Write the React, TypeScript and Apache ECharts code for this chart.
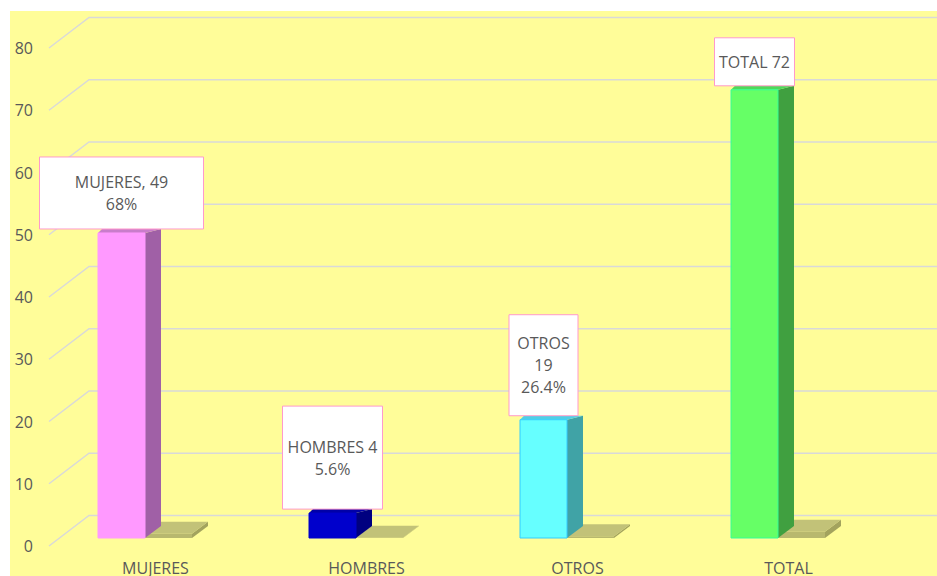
import React, { useEffect, useRef } from "react";
import * as echarts from "echarts";

const categories = ["MUJERES", "HOMBRES", "OTROS", "TOTAL"];
const values = [49, 4, 19, 72];
const percents = [68, 5.6, 26.4, 100];
const shareSeries = [0.68, 0.056, 0.264, 1];
const yTicks = [0, 10, 20, 30, 40, 50, 60, 70, 80];

const labelTexts = [
  `${categories[0]}, ${values[0]}\n${percents[0]}%`,
  `${categories[1]} ${values[1]}\n${percents[1]}%`,
  `${categories[2]}\n${values[2]}\n${percents[2]}%`,
  `${categories[3]} ${values[3]}`,
];

// styles
const FONT = "'Open Sans', 'Noto Sans', sans-serif";
const TEXT = "#595959";
const barFaces = [
  { front: "#FF99FF", side: "#A060A6", top: "#C97CCB", stroke: "#FF99FF" },
  { front: "#0000CC", side: "#000080", top: "#0000A8", stroke: "#0000CC" },
  { front: "#66FFFF", side: "#40A3A6", top: "#4FCFE6", stroke: "#33CCFF" },
  { front: "#66FF66", side: "#40A040", top: "#4FD85A", stroke: "#33FF99" },
];
const labelBoxes = [
  { w: 164, h: 72 },
  { w: 100, h: 103 },
  { w: 69, h: 101 },
  { w: 80, h: 48 },
];

export default function App() {
  const ref = useRef<HTMLDivElement>(null);
  useEffect(() => {
    if (!ref.current) return;
    const chart = echarts.init(ref.current, null, { renderer: "svg" });
    const BAR_W = 47;
    const FRONT_OFF = 8;

    const option: any = {
      animation: false,
      backgroundColor: "#FFFFFF",
      graphic: [
        {
          type: "rect",
          shape: { x: 10, y: 11, width: 927, height: 565 },
          style: { fill: "#FFFD99" },
          z: -10,
          silent: true,
        },
      ],
      grid: { left: 50, right: 43, top: 48, bottom: 28 },
      xAxis: {
        type: "category",
        data: categories,
        axisLine: { show: false },
        axisTick: { show: false },
        splitLine: { show: false },
        axisLabel: { color: TEXT, fontSize: 16, fontFamily: FONT, margin: 14 },
      },
      yAxis: {
        type: "value",
        min: 0,
        max: 80,
        interval: 10,
        axisLine: { show: false },
        axisTick: { show: false },
        splitLine: { show: false },
        axisLabel: { color: TEXT, fontSize: 16, fontFamily: FONT, margin: 17 },
      },
      series: [
        {
          type: "custom",
          name: "grid",
          z: 1,
          silent: true,
          data: yTicks.map((t) => [0, t]),
          renderItem: (params: any, api: any) => {
            const y = api.coord([0, api.value(1)])[1];
            return {
              type: "polyline",
              shape: { points: [[49, y], [89, y - 30.5], [937, y - 30.5]] },
              style: { stroke: "#D9D9D9", lineWidth: 1.5, fill: "none" },
            };
          },
        },
        {
          type: "custom",
          name: "pct",
          z: 2,
          data: shareSeries.map((v, i) => [i, v]),
          renderItem: (params: any, api: any) => {
            const base = api.coord([api.value(0), 0]);
            const cx = base[0];
            const y0 = base[1] - FRONT_OFF;
            const yP = api.coord([api.value(0), api.value(1)])[1] - FRONT_OFF;
            const x0 = cx - 57.5 + BAR_W;
            const x1 = x0 + BAR_W;
            return {
              type: "group",
              children: [
                {
                  type: "polygon",
                  shape: { points: [[x0, y0], [x1, y0], [x1, yP], [x0, yP]] },
                  style: { fill: "#B8B86E" },
                },
                {
                  type: "polygon",
                  shape: { points: [[x1, yP], [x1 + 16, yP - 12], [x1 + 16, y0 - 12], [x1, y0]] },
                  style: { fill: "#A3A35E" },
                },
                {
                  type: "polygon",
                  shape: { points: [[x0, yP], [x1, yP], [x1 + 16, yP - 12], [x0 + 16, yP - 12]] },
                  style: { fill: "#C2C278" },
                },
              ],
            };
          },
        },
        {
          type: "custom",
          name: "valores",
          z: 3,
          data: values.map((v, i) => [i, v]),
          renderItem: (params: any, api: any) => {
            const i = params.dataIndex;
            const f = barFaces[i];
            const base = api.coord([api.value(0), 0]);
            const cx = base[0];
            const y0 = base[1] - FRONT_OFF;
            const yT = api.coord([api.value(0), api.value(1)])[1] - FRONT_OFF;
            const x0 = cx - 57.5;
            const x1 = x0 + BAR_W;
            return {
              type: "group",
              children: [
                {
                  type: "polygon",
                  shape: { points: [[x1, yT], [x1 + 16, yT - 4], [x1 + 16, y0 - 12], [x1, y0]] },
                  style: { fill: f.side },
                },
                {
                  type: "polygon",
                  shape: { points: [[x0, yT], [x1, yT], [x1 + 16, yT - 4], [x0 + 4, yT - 4]] },
                  style: { fill: f.top },
                },
                {
                  type: "rect",
                  shape: { x: x0, y: yT, width: BAR_W, height: y0 - yT },
                  style: { fill: f.front, stroke: f.stroke, lineWidth: 1 },
                },
              ],
            };
          },
        },
        {
          type: "custom",
          name: "etiquetas",
          z: 5,
          data: values.map((v, i) => [i, v]),
          renderItem: (params: any, api: any) => {
            const i = params.dataIndex;
            const b = labelBoxes[i];
            const cx = api.coord([api.value(0), 0])[0] - 57.5 + BAR_W / 2;
            const yT = api.coord([api.value(0), api.value(1)])[1] - FRONT_OFF;
            const bottom = yT - 4;
            const top = bottom - b.h;
            return {
              type: "group",
              children: [
                {
                  type: "rect",
                  shape: { x: cx - b.w / 2, y: top, width: b.w, height: b.h },
                  style: { fill: "#FFFFFF", stroke: "#FF99CC", lineWidth: 1 },
                },
                {
                  type: "text",
                  style: {
                    text: labelTexts[i],
                    x: cx,
                    y: top + b.h / 2,
                    align: "center",
                    verticalAlign: "middle",
                    fill: TEXT,
                    fontSize: 16,
                    fontFamily: FONT,
                    lineHeight: 22,
                  },
                },
              ],
            };
          },
        },
      ],
    };
    chart.setOption(option);
    return () => chart.dispose();
  }, []);
  return (
    <div
      ref={ref}
      style={{ position: "fixed", left: 0, top: 0, width: 937, height: 576 }}
    />
  );
}
